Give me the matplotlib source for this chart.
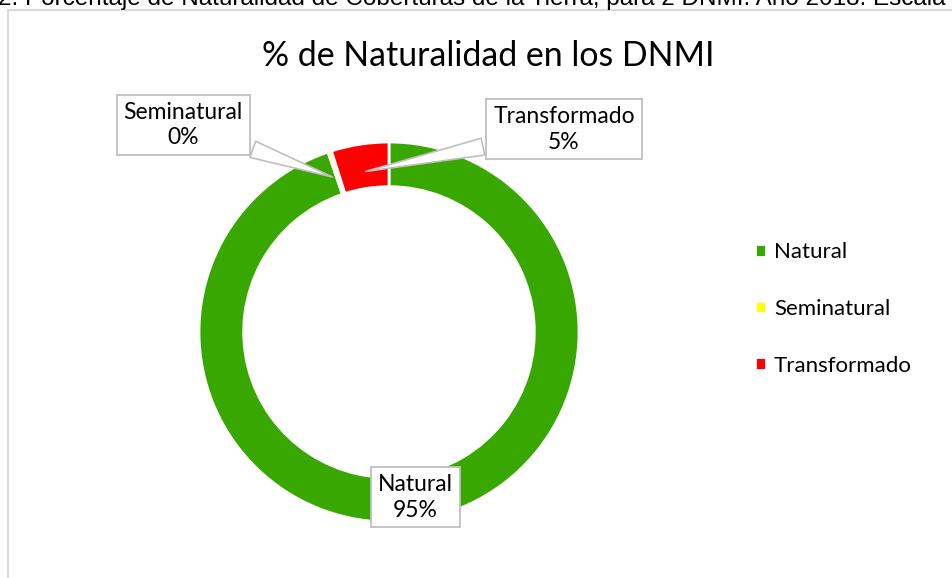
import matplotlib
matplotlib.use('Agg')
import matplotlib.pyplot as plt
from matplotlib.patches import Rectangle

plt.rcParams['font.family'] = ['Lato', 'DejaVu Sans']

### data
categorias = ['Natural', 'Seminatural', 'Transformado']
porcentajes = [94.8, 0.3, 4.9]
etiquetas = ['Natural\n95%', 'Seminatural\n0%', 'Transformado\n5%']
colores = ['#38A800', '#FFFF00', '#FF0000']
titulo = '% de Naturalidad en los DNMI'
leyenda_superior = '2. Porcentaje de Naturalidad de Coberturas de la Tierra, para 2 DNMI. Año 2018. Escala'

W, H = 952, 578
fig = plt.figure(figsize=(W / 100, H / 100), dpi=100)

# caption of the document, cut at the top like in the source
fig.text(-2 / W, 1 - 5 / H, leyenda_superior, fontsize=17.5, family='Liberation Sans',
         va='baseline', ha='left', color='black')

# chart frame (only left and top are visible)
fig.patches.append(Rectangle((8 / W, -0.1), 1.2, 1 - 10 / H + 0.1, transform=fig.transFigure,
                             fill=False, edgecolor='#d9d9d9', linewidth=1.5))

fig.text(488 / W, 1 - 56 / H, titulo, fontsize=24.4, ha='center', va='center', color='#000000')

# donut
cx, cy, r = 389, 332, 190
ax = fig.add_axes([(cx - r) / W, (H - cy - r) / H, 2 * r / W, 2 * r / H])
wedges, _ = ax.pie(porcentajes, colors=colores, startangle=90, counterclock=False, radius=1,
                   wedgeprops=dict(width=0.235, edgecolor='white', linewidth=2))
ax.set_xlim(-1, 1)
ax.set_ylim(-1, 1)
ax.set_aspect('equal')
ax.axis('off')
for w in wedges:
    w.set_clip_on(False)

caja = dict(boxstyle='square,pad=0.3', fc='white', ec='#bfbfbf', lw=1.3)
flecha = dict(arrowstyle='wedge,tail_width=0.75,shrink_factor=0.5', fc='white', ec='#bfbfbf', lw=1.2)

ax.annotate(etiquetas[1], xy=(-0.284, 0.811), xytext=(-1.084, 1.089), ha='center', va='center',
            fontsize=16.5, linespacing=1.25, bbox=caja, arrowprops=flecha, annotation_clip=False)
ax.annotate(etiquetas[2], xy=(-0.137, 0.842), xytext=(0.921, 1.066), ha='center', va='center',
            fontsize=16.5, linespacing=1.25, bbox=caja, arrowprops=flecha, annotation_clip=False)
ax.text(0.139, -0.871, etiquetas[0], ha='center', va='center', fontsize=16.5, linespacing=1.25,
        bbox=caja)

fig.legend(wedges, categorias, loc='center left', bbox_to_anchor=(744 / W, 1 - 309 / H),
           frameon=False, fontsize=16, handlelength=0.5, handleheight=0.5,
           handletextpad=0.35, labelspacing=1.65, borderpad=0)

fig.savefig('out.png', dpi=100)
